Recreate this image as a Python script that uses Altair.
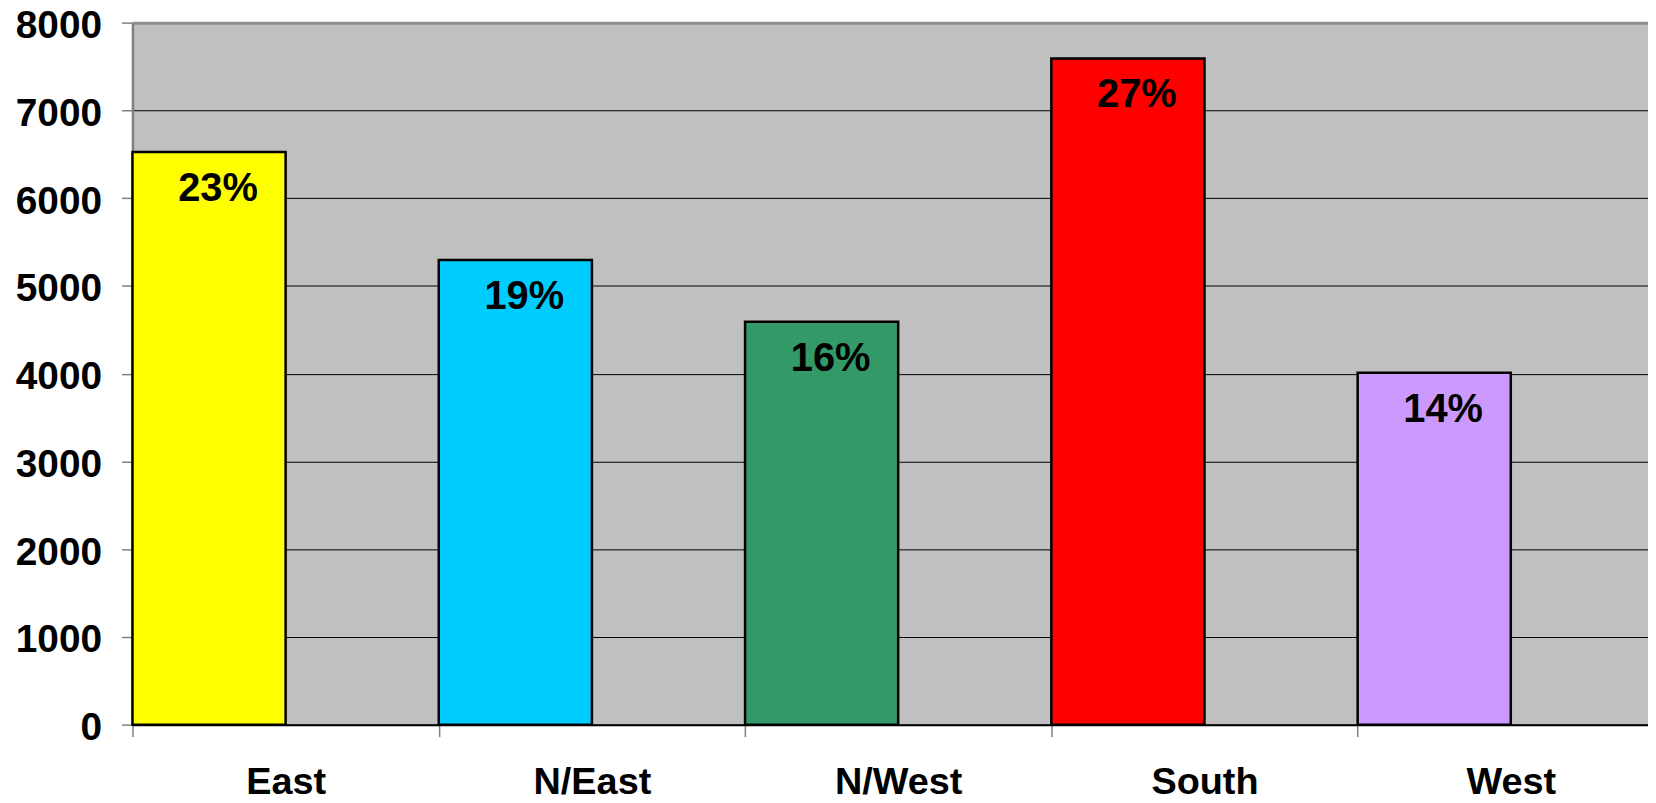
import altair as alt
import pandas as pd

regions = ["East", "N/East", "N/West", "South", "West"]
values = [6525, 5295, 4590, 7590, 4010]
pct_labels = ["23%", "19%", "16%", "27%", "14%"]
colors = ["#FFFF00", "#00CCFF", "#339966", "#FF0000", "#CC99FF"]

df = pd.DataFrame({
    "region": regions,
    "value": values,
    "pct": pct_labels,
    "series": ["a"] * len(regions),
})

FONT = "Liberation Sans"

x_enc = alt.X(
    "region:N",
    sort=regions,
    scale=alt.Scale(paddingInner=0, paddingOuter=0, range=[0, 1538]),
    axis=alt.Axis(
        title=None,
        labelAngle=0,
        labelFont=FONT,
        labelFontSize=38,
        labelFontWeight="bold",
        labelColor="black",
        labelBaseline="middle",
        labelPadding=46,
        tickBand="extent",
        tickSize=12,
        tickColor="#808080",
        tickWidth=1.5,
        domainColor="black",
        domainWidth=2,
        grid=False,
    ),
)
xoff = alt.XOffset("series:N", scale=alt.Scale(domain=["a", "b"], paddingInner=0, paddingOuter=0))
y_enc = alt.Y(
    "value:Q",
    scale=alt.Scale(domain=[0, 8000], nice=False),
    axis=alt.Axis(
        title=None,
        values=list(range(0, 8001, 1000)),
        format="d",
        labelFont=FONT,
        labelFontSize=39,
        labelFontWeight="bold",
        labelColor="black",
        labelPadding=20,
        labelOffset=3,
        tickSize=11,
        tickColor="#808080",
        tickWidth=1.5,
        domainColor="#808080",
        domainWidth=2.5,
        grid=True,
        gridColor={"condition": {"test": "datum.value === 8000", "value": "#8c8c8c"}, "value": "#000000"},
        gridWidth={"condition": {"test": "datum.value === 8000", "value": 3}, "value": 1},
        gridOpacity=1,
    ),
)

bars = alt.Chart(df).mark_bar(stroke="black", strokeWidth=2.5).encode(
    x=x_enc,
    xOffset=xoff,
    y=y_enc,
    color=alt.Color("region:N", scale=alt.Scale(domain=regions, range=colors), legend=None),
)

labels = alt.Chart(df).mark_text(
    font=FONT, fontSize=40, fontWeight="bold", color="black",
    baseline="middle", align="center", dy=37, dx=9,
).encode(
    x=alt.X("region:N", sort=regions),
    xOffset=alt.XOffset("series:N"),
    y=alt.Y("value:Q"),
    text="pct:N",
)

chart = alt.layer(bars, labels).properties(
    width=1522,
    height=705,
    autosize=alt.AutoSizeParams(type="none"),
    padding={"left": 125, "top": 13, "right": 0, "bottom": 77},
    background="white",
).configure_view(
    fill="#C0C0C0",
    stroke=None,
)

chart.save("out.html", embed_options={"renderer": "svg", "actions": False})
